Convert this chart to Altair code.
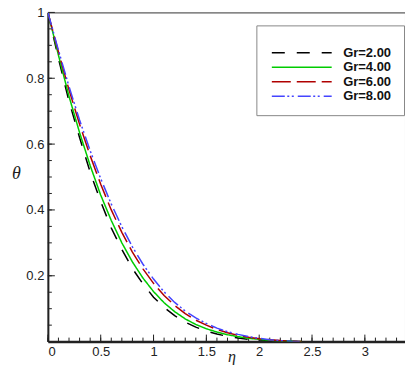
import altair as alt
import pandas as pd

eta = [0.0, 0.1, 0.2, 0.3, 0.4, 0.5, 0.6, 0.7, 0.8, 0.9, 1.0, 1.1, 1.2, 1.3,
       1.4, 1.5, 1.6, 1.7, 1.8, 1.9, 2.0, 2.1, 2.2, 2.3, 2.4]
theta_gr2 = [1.0, 0.86, 0.73, 0.62, 0.515, 0.425, 0.345, 0.28, 0.222, 0.175, 0.135,
             0.104, 0.079, 0.059, 0.044, 0.032, 0.023, 0.016, 0.011, 0.007, 0.005,
             0.003, 0.002, 0.001, 0.0]
theta_gr4 = [1.0, 0.87, 0.745, 0.635, 0.535, 0.445, 0.368, 0.30, 0.242, 0.193, 0.152,
             0.118, 0.091, 0.069, 0.052, 0.039, 0.029, 0.021, 0.015, 0.010, 0.007,
             0.004, 0.002, 0.001, 0.0]
theta_gr6 = [1.0, 0.88, 0.765, 0.66, 0.565, 0.478, 0.40, 0.332, 0.272, 0.221, 0.177,
             0.140, 0.110, 0.085, 0.065, 0.050, 0.037, 0.027, 0.019, 0.013, 0.009,
             0.006, 0.003, 0.001, 0.0]
theta_gr8 = [1.0, 0.885, 0.775, 0.673, 0.58, 0.495, 0.418, 0.349, 0.288, 0.235, 0.19,
             0.151, 0.119, 0.093, 0.072, 0.055, 0.041, 0.030, 0.022, 0.015, 0.010,
             0.006, 0.003, 0.001, 0.0]

series_names = ["Gr=2.00", "Gr=4.00", "Gr=6.00", "Gr=8.00"]
series_colors = ["#000000", "#00cc00", "#b00000", "#4444ff"]
series_dashes = [[13, 12], [1, 0], [19, 6], [13, 2.5, 2, 2.5, 2, 4]]

x_labels = [0, 0.5, 1, 1.5, 2, 2.5, 3]
x_minor = [round(i * 0.1, 1) for i in range(0, 34)]
y_labels = [0.2, 0.4, 0.6, 0.8, 1]
y_minor = [round(i * 0.05, 2) for i in range(1, 20)]

rows = []
for name, vals in zip(series_names, [theta_gr2, theta_gr4, theta_gr6, theta_gr8]):
    for e, t in zip(eta, vals):
        rows.append({"eta": e, "theta": t, "series": name})
df = pd.DataFrame(rows)

FONT = "Liberation Sans"
xscale = alt.Scale(domain=[0, 3.38], nice=False, zero=False)
yscale = alt.Scale(domain=[0, 1], nice=False)

lines = alt.Chart(df).mark_line(strokeWidth=1.5, clip=True).encode(
    x=alt.X("eta:Q", scale=xscale,
            axis=alt.Axis(values=x_labels, labelExpr="format(datum.value, '')",
                          ticks=False, grid=False, domainWidth=2.5, domainColor="#222",
                          labelFont=FONT, labelFontSize=13, labelColor="#222",
                          labelPadding=4,
                          title="η", titleFont="Liberation Serif", titleFontSize=16,
                          titleFontStyle="italic", titleFontWeight="normal",
                          titleColor="#222", titleX=184, titleY=20,
                          titleBaseline="alphabetic")),
    y=alt.Y("theta:Q", scale=yscale,
            axis=alt.Axis(values=y_labels, labelExpr="format(datum.value, '')",
                          ticks=False, grid=False, domainWidth=2, domainColor="#222",
                          labelFont=FONT, labelFontSize=13, labelColor="#222",
                          labelPadding=4,
                          title="θ", titleAngle=0, titleFont="Liberation Serif",
                          titleFontSize=18, titleFontStyle="italic",
                          titleFontWeight="normal", titleColor="#222",
                          titleX=-32, titleY=170)),
    color=alt.Color("series:N", scale=alt.Scale(domain=series_names, range=series_colors),
                    legend=alt.Legend(title=" ", titleFontSize=7, titlePadding=2,
                                      orient="none", legendX=209, legendY=13,
                                      symbolType="M-1,0H19", symbolSize=36,
                                      symbolStrokeWidth=1.5,
                                      labelFont=FONT, labelFontSize=13,
                                      labelFontWeight="bold", labelColor="#111",
                                      labelOffset=62, padding=12,
                                      strokeColor="#888", fillColor="white",
                                      rowPadding=0.5)),
    strokeDash=alt.StrokeDash("series:N",
                              scale=alt.Scale(domain=series_names, range=series_dashes),
                              legend=None),
)

ymaj = alt.Chart(pd.DataFrame({"v": y_labels})).mark_rule(color="#222").encode(
    y=alt.Y("v:Q", scale=yscale), x=alt.value(0), x2=alt.value(7))
ymin = alt.Chart(pd.DataFrame({"v": y_minor})).mark_rule(color="#222").encode(
    y=alt.Y("v:Q", scale=yscale), x=alt.value(0), x2=alt.value(4))
xmaj = alt.Chart(pd.DataFrame({"v": x_labels})).mark_rule(color="#222").encode(
    x=alt.X("v:Q", scale=xscale), y=alt.value(330), y2=alt.value(323))
xmin = alt.Chart(pd.DataFrame({"v": x_minor})).mark_rule(color="#222").encode(
    x=alt.X("v:Q", scale=xscale), y=alt.value(330), y2=alt.value(326))

chart = alt.layer(ymin, ymaj, xmin, xmaj, lines).properties(
    width=358, height=330,
    autosize=alt.AutoSizeParams(type="none"),
    padding={"left": 48, "top": 12, "right": 0, "bottom": 23},
    background="white",
).configure_view(stroke="#333", strokeWidth=1)

chart.save("out.html", embed_options={"renderer": "svg", "actions": False})
